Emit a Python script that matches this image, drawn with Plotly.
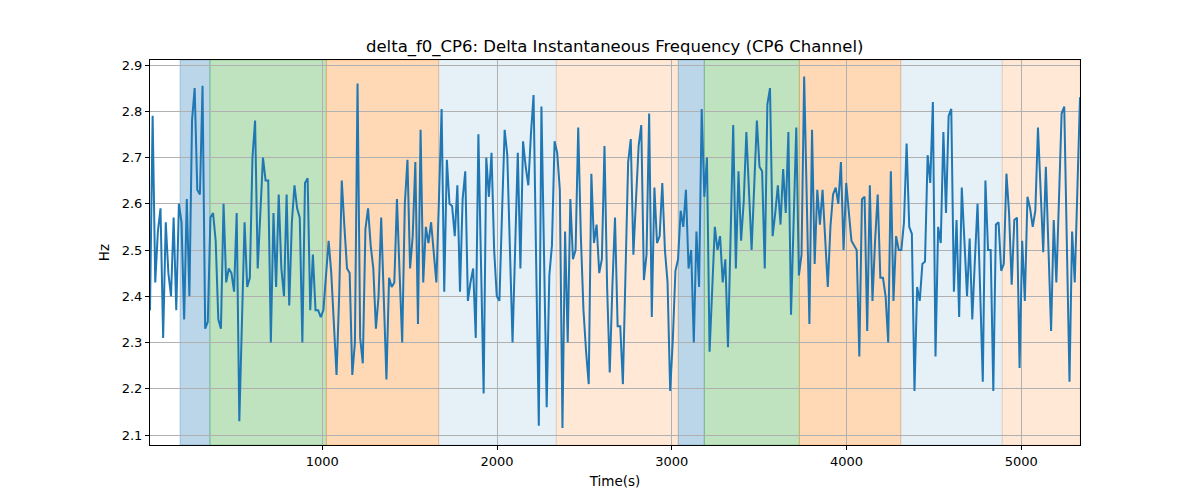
import numpy as np
import plotly.graph_objects as go

# ---- data ----
t_start, t_end = 14, 5336

hz_values = [
    # segment 1
    2.37, 2.79, 2.43, 2.54, 2.59, 2.31, 2.56, 2.45, 2.40, 2.57, 2.37, 2.60, 2.56, 2.35, 2.61, 2.40,
    2.78, 2.85, 2.63, 2.62, 2.855, 2.33, 2.345, 2.57, 2.58, 2.52, 2.35, 2.33, 2.60, 2.43, 2.46, 2.45,
    2.41, 2.58, 2.13, 2.35, 2.56, 2.42, 2.44, 2.70, 2.78, 2.46, 2.58, 2.70, 2.65, 2.65,
    # segment 2
    2.30, 2.58, 2.42, 2.62, 2.46, 2.40, 2.62, 2.38, 2.56, 2.64, 2.59, 2.57, 2.30, 2.645, 2.655, 2.37,
    2.49, 2.37, 2.37, 2.355, 2.37, 2.45, 2.52, 2.45, 2.345, 2.23, 2.40, 2.65, 2.55, 2.46, 2.45, 2.23,
    2.30, 2.86, 2.31, 2.255, 2.545, 2.59, 2.51, 2.46, 2.33, 2.40, 2.57, 2.40, 2.22,
    # segment 3
    2.44, 2.42, 2.43, 2.61, 2.45, 2.30, 2.60, 2.695, 2.46, 2.53, 2.69, 2.34, 2.76, 2.43, 2.55, 2.515,
    2.56, 2.50, 2.43, 2.61, 2.805, 2.41, 2.695, 2.60, 2.595, 2.53, 2.64, 2.41, 2.61, 2.67, 2.39, 2.43,
    2.46, 2.31, 2.75, 2.47, 2.19, 2.70, 2.615, 2.71, 2.50, 2.40, 2.39, 2.58, 2.76, 2.705,
    # segment 4
    2.50, 2.30, 2.505, 2.71, 2.46, 2.735, 2.68, 2.64, 2.75, 2.835, 2.47, 2.12, 2.81, 2.48, 2.16, 2.445,
    2.51, 2.735, 2.71, 2.63, 2.115, 2.54, 2.30, 2.61, 2.48, 2.50, 2.765, 2.53, 2.37, 2.28, 2.21, 2.665,
    2.515, 2.555, 2.45, 2.48, 2.725, 2.42, 2.235, 2.42, 2.57, 2.335, 2.335, 2.21, 2.45, 2.69,
    # segment 5
    2.74, 2.49, 2.61, 2.725, 2.77, 2.435, 2.49, 2.795, 2.355, 2.635, 2.515, 2.53, 2.645, 2.50, 2.43, 2.195,
    2.305, 2.455, 2.48, 2.585, 2.55, 2.63, 2.46, 2.50, 2.30, 2.54, 2.42, 2.805, 2.615, 2.70, 2.28, 2.41,
    2.55, 2.50, 2.53, 2.43, 2.48, 2.29, 2.555, 2.77, 2.46, 2.67, 2.52, 2.605, 2.755,
    # segment 6
    2.63, 2.50, 2.64, 2.78, 2.68, 2.67, 2.46, 2.815, 2.85, 2.53, 2.58, 2.64, 2.555, 2.675, 2.58, 2.755,
    2.36, 2.56, 2.765, 2.445, 2.49, 2.875, 2.61, 2.34, 2.76, 2.47, 2.63, 2.555, 2.63, 2.52, 2.42, 2.55,
    2.62, 2.635, 2.60, 2.69, 2.50, 2.645, 2.575, 2.52, 2.51, 2.50, 2.27, 2.61, 2.615, 2.325, 2.64,
    # segment 7
    2.39, 2.52, 2.62, 2.44, 2.44, 2.40, 2.30, 2.67, 2.39, 2.53, 2.50, 2.50, 2.56, 2.73, 2.55, 2.535,
    2.195, 2.42, 2.39, 2.47, 2.475, 2.705, 2.645, 2.82, 2.27, 2.55, 2.515, 2.755, 2.58, 2.79, 2.805, 2.41,
    2.565, 2.355, 2.635, 2.52, 2.40, 2.525, 2.35, 2.48, 2.60, 2.41, 2.215, 2.65,
    # segment 8
    2.50, 2.50, 2.195, 2.555, 2.56, 2.455, 2.47, 2.665, 2.58, 2.425, 2.565, 2.57, 2.245, 2.52, 2.39, 2.615,
    2.59, 2.55, 2.585, 2.765, 2.63, 2.495, 2.68, 2.50, 2.325, 2.565, 2.43, 2.61, 2.795, 2.81, 2.51, 2.215,
    2.54, 2.43, 2.63, 2.83,
]

time_s = np.linspace(t_start, t_end, len(hz_values))

# shaded segments: (start, end, kind)
span_starts = [186, 357, 1023, 1666, 2339, 3037, 3186, 3730, 4310, 4891]
span_ends = [357, 1023, 1666, 2339, 3037, 3186, 3730, 4310, 4891, 5336]
span_kinds = ["blue", "green", "orange", "lightblue", "lightorange",
              "blue", "green", "orange", "lightblue", "lightorange"]

span_fill = {
    "blue": "rgba(31,119,180,0.3)",
    "green": "rgba(44,160,44,0.3)",
    "orange": "rgba(255,127,14,0.3)",
    "lightblue": "rgba(31,119,180,0.11)",
    "lightorange": "rgba(255,127,14,0.17)",
}

y_ticks = [2.1, 2.2, 2.3, 2.4, 2.5, 2.6, 2.7, 2.8, 2.9]
x_ticks = [1000, 2000, 3000, 4000, 5000]

fig = go.Figure()

for s, e, k in zip(span_starts, span_ends, span_kinds):
    fig.add_shape(type="rect", xref="x", yref="paper", x0=s, x1=e, y0=0, y1=1,
                  fillcolor=span_fill[k], line=dict(color=span_fill[k], width=1),
                  layer="below")

fig.add_trace(go.Scatter(x=time_s, y=hz_values, mode="lines",
                         line=dict(color="#1f77b4", width=2), showlegend=False))

font = "DejaVu Sans, Liberation Sans, sans-serif"
fig.update_layout(
    width=1192, height=492,
    margin=dict(l=142, r=120, t=52, b=55),
    paper_bgcolor="white", plot_bgcolor="white",
    font=dict(family=font, size=13, color="black"),
    title=dict(text="delta_f0_CP6: Delta Instantaneous Frequency (CP6 Channel)",
               x=0.509, xanchor="center", y=0.9228, yanchor="middle",
               font=dict(size=16.5, family=font, color="black")),
)
fig.update_xaxes(range=[t_start, t_end], tickvals=x_ticks, ticks="outside", ticklen=4,
                 tickcolor="black", showgrid=True, gridcolor="#b0b0b0", gridwidth=1,
                 showline=True, linecolor="black", linewidth=1, mirror=True, zeroline=False,
                 tickfont=dict(size=13),
                 title=dict(text="Time(s)", font=dict(size=13.5), standoff=8))
fig.update_yaxes(range=[2.0784, 2.9108], tickvals=y_ticks, ticktext=[f"{v:.1f}" for v in y_ticks],
                 ticks="outside", ticklen=4, tickcolor="black", showgrid=True,
                 gridcolor="#b0b0b0", gridwidth=1, showline=True, linecolor="black",
                 linewidth=1, mirror=True, zeroline=False, tickfont=dict(size=13),
                 title=dict(text="Hz", font=dict(size=13.5), standoff=8))

fig.write_html("out.html")
